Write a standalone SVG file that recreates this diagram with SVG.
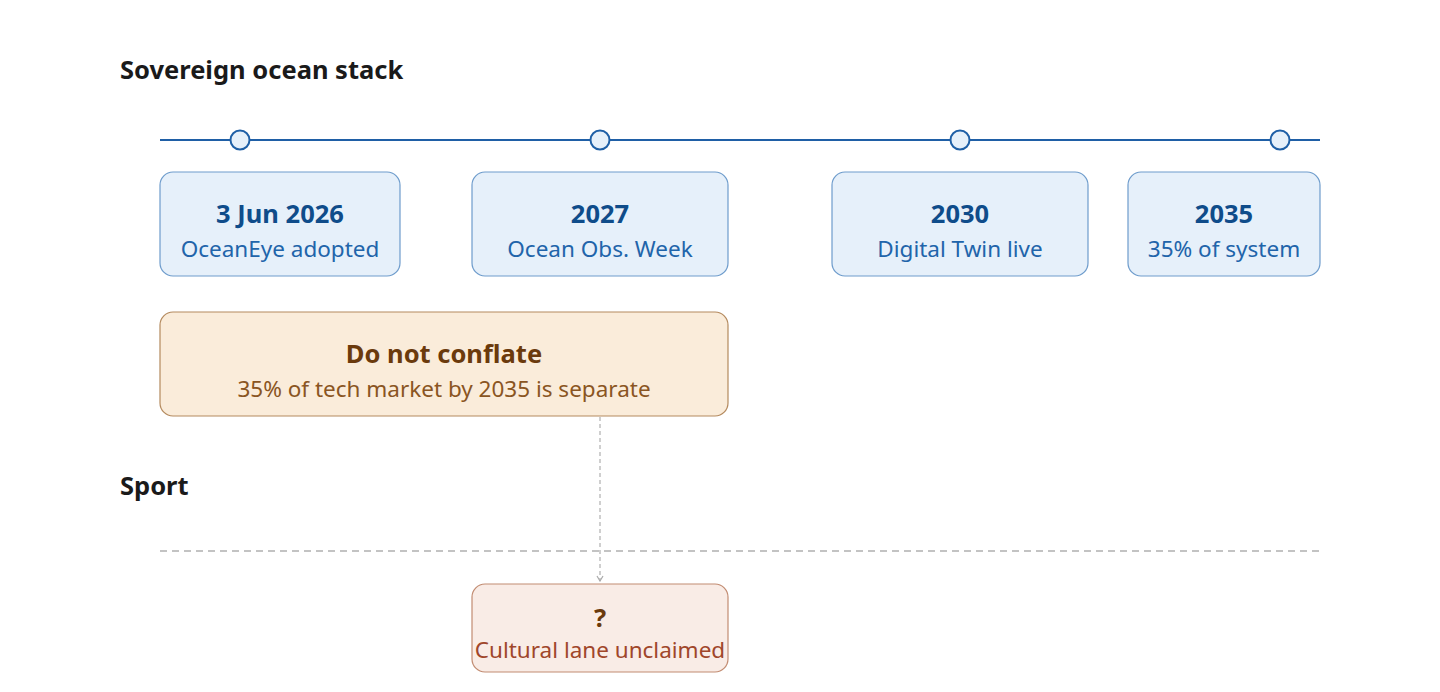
<svg xmlns="http://www.w3.org/2000/svg" width="1440" height="692" viewBox="0 0 1440 692">
<defs>
<style>
text{font-family:"Noto Sans","Open Sans","Liberation Sans",sans-serif;text-anchor:middle}
.h{font-size:25.5px;font-weight:700;text-anchor:start;fill:#1a1a1a}
.bx{fill:#e6f0fa;stroke:#6e9ccc;stroke-width:1.2}
.bt{font-size:25.5px;font-weight:700;fill:#0f4c8a}
.bs{font-size:22.5px;fill:#2164aa}
.wx{fill:#faecda;stroke:#b48a5e;stroke-width:1.2}
.wt{font-size:25.5px;font-weight:700;fill:#6b3a0c}
.ws{font-size:22.5px;fill:#8a5522}
.qx{fill:#f9ece6;stroke:#c28c72;stroke-width:1.2}
.qs{font-size:22.5px;fill:#a0462a}
.dot{fill:#e6f0fa;stroke:#1f5fa6;stroke-width:2}
</style>
<marker id="ar" viewBox="0 0 8 8" refX="7" refY="4" markerWidth="8" markerHeight="8" orient="auto" markerUnits="userSpaceOnUse">
<path d="M2,1 L7,4 L2,7" fill="none" stroke="#aaaaaa" stroke-width="1.2"/>
</marker>
</defs>
<rect width="1440" height="692" fill="#ffffff"/>
<text class="h" x="120" y="79">Sovereign ocean stack</text>
<text class="h" x="120" y="495">Sport</text>
<g id="connectors">
<line x1="160" y1="140" x2="1320" y2="140" stroke="#1f5fa6" stroke-width="2"/>
<line x1="160" y1="551" x2="1320" y2="551" stroke="#b0b0b0" stroke-width="1.5" stroke-dasharray="7 5"/>
<line x1="600" y1="417" x2="600" y2="581" stroke="#b0b0b0" stroke-width="1.2" stroke-dasharray="4 3" marker-end="url(#ar)"/>
</g>
<g id="ticks">
<circle class="dot" cx="240" cy="140" r="9.5"/>
<circle class="dot" cx="600" cy="140" r="9.5"/>
<circle class="dot" cx="960" cy="140" r="9.5"/>
<circle class="dot" cx="1280" cy="140" r="9.5"/>
</g>
<g id="n2026">
<rect class="bx" x="160" y="172" width="240" height="104" rx="13"/>
<text class="bt" x="280" y="223">3 Jun 2026</text>
<text class="bs" x="280" y="257">OceanEye adopted</text>
</g>
<g id="n2027">
<rect class="bx" x="472" y="172" width="256" height="104" rx="13"/>
<text class="bt" x="600" y="223">2027</text>
<text class="bs" x="600" y="257">Ocean Obs. Week</text>
</g>
<g id="n2030">
<rect class="bx" x="832" y="172" width="256" height="104" rx="13"/>
<text class="bt" x="960" y="223">2030</text>
<text class="bs" x="960" y="257">Digital Twin live</text>
</g>
<g id="n2035">
<rect class="bx" x="1128" y="172" width="192" height="104" rx="13"/>
<text class="bt" x="1224" y="223">2035</text>
<text class="bs" x="1224" y="257">35% of system</text>
</g>
<g id="conflate">
<rect class="wx" x="160" y="312" width="568" height="104" rx="13"/>
<text class="wt" x="444" y="363">Do not conflate</text>
<text class="ws" x="444" y="397">35% of tech market by 2035 is separate</text>
</g>
<g id="unclaimed">
<rect class="qx" x="472" y="584" width="256" height="88" rx="13"/>
<text class="wt" x="600" y="627">?</text>
<text class="qs" x="600" y="658">Cultural lane unclaimed</text>
</g>
</svg>
